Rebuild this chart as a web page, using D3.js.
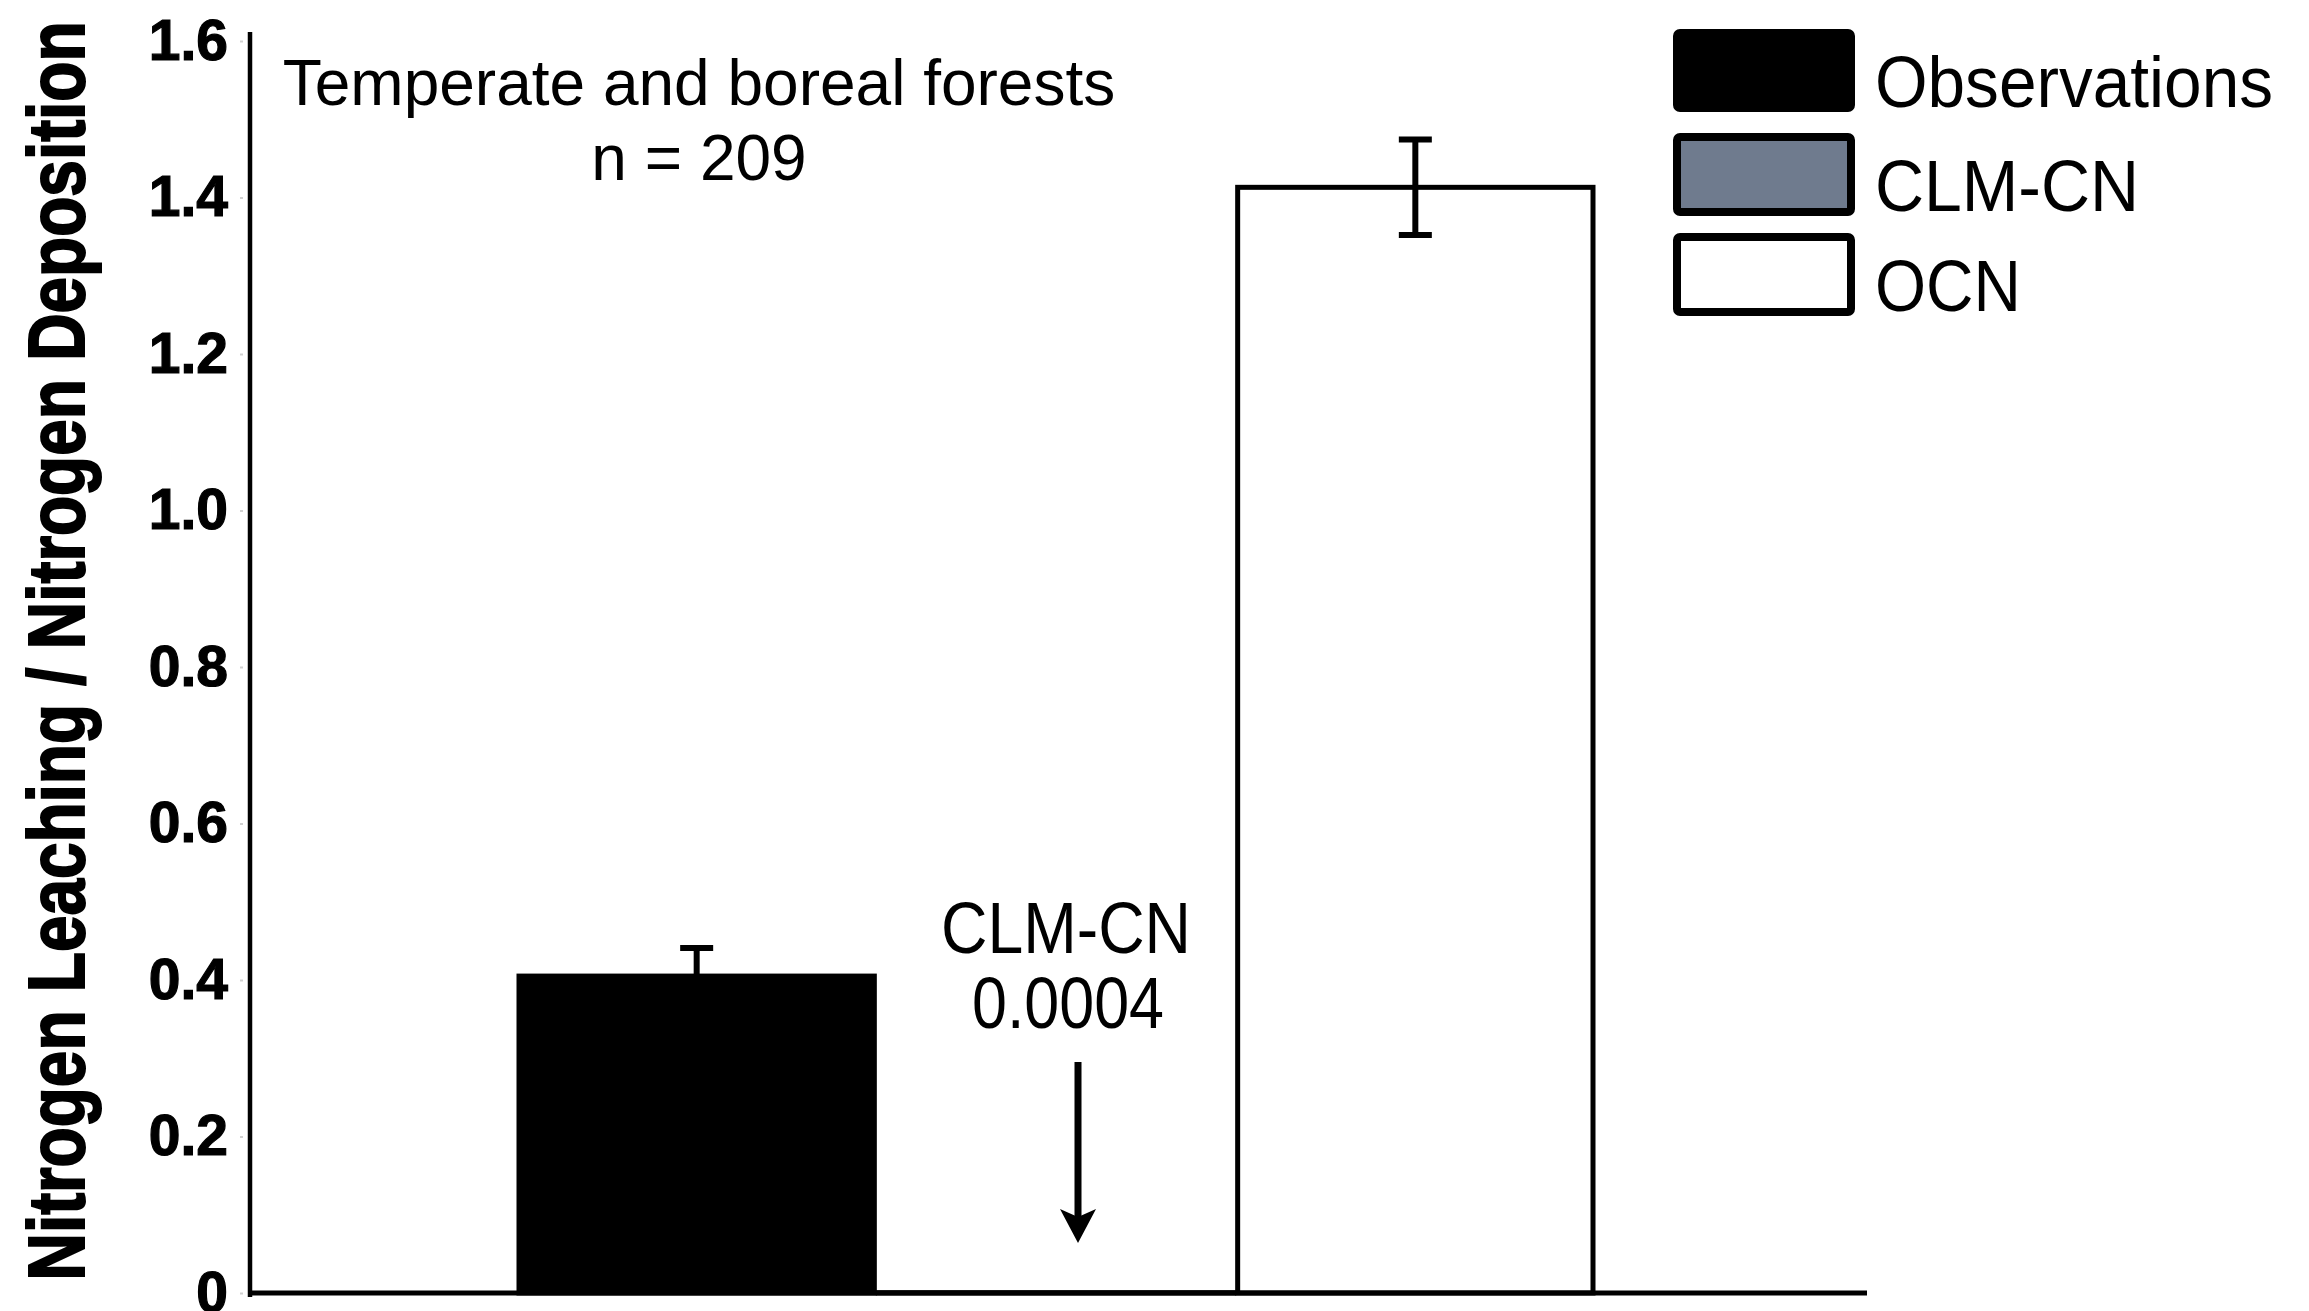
<!DOCTYPE html>
<html>
<head>
<meta charset="utf-8">
<script src="https://cdn.jsdelivr.net/npm/d3@7"></script>
<style>
  html, body { margin: 0; padding: 0; background: #fff; }
  svg { display: block; }
</style>
</head>
<body>
<svg id="chart" width="2309" height="1311"></svg>
<script>
// Ratio of nitrogen leaching to nitrogen deposition, temperate and boreal forests
const categories = ["Observations", "CLM-CN", "OCN"];
const values = [0.405, 0.0004, 1.413];
const errors = [0.036, 0, 0.061];
const fills = ["#000000", "#6f7b8e", "#ffffff"];
const yTicks = [0, 0.2, 0.4, 0.6, 0.8, 1.0, 1.2, 1.4, 1.6];
const titleLines = ["Temperate and boreal forests", "n = 209"];
const yTitle = "Nitrogen Leaching / Nitrogen Deposition";

const svg = d3.select("#chart");
const sans = "'Liberation Sans', Arial, Helvetica, sans-serif";

const y = d3.scaleLinear().domain([0, 1.6]).range([1293, 41]);
const x = d3.scaleBand().domain(categories).range([517, 1595]).paddingInner(0).paddingOuter(0);

const axisLeftX = 250;
const axisRightX = 1867;

// y axis: labels plus faint tick marks set off from the axis line
const yAxis = d3.axisLeft(y)
  .tickValues(yTicks)
  .tickSize(0)
  .tickPadding(22)
  .tickFormat(d => d === 0 ? "0" : d3.format(".1f")(d));

const gy = svg.append("g").attr("transform", `translate(${axisLeftX},0)`).call(yAxis);
gy.select(".domain").remove();
gy.selectAll(".tick text")
  .attr("font-family", sans)
  .attr("font-weight", "bold")
  .attr("font-size", 57)
  .attr("fill", "#000")
  .attr("stroke", "#000")
  .attr("stroke-width", 1.2);
gy.selectAll(".tick").append("line")
  .attr("x1", -10).attr("x2", -7)
  .attr("stroke", "#d0d0d0").attr("stroke-width", 2);

// axis lines
svg.append("line")
  .attr("x1", axisLeftX).attr("x2", axisLeftX)
  .attr("y1", y(1.6) - 9).attr("y2", y(0) + 4)
  .attr("stroke", "#000").attr("stroke-width", 4.5);

// bars
const bars = svg.append("g");
bars.selectAll("rect")
  .data(categories)
  .join("rect")
  .attr("x", d => x(d) + 2)
  .attr("width", x.bandwidth() - 4)
  .attr("y", (d, i) => y(values[i]))
  .attr("height", (d, i) => y(0) - y(values[i]))
  .attr("fill", (d, i) => fills[i])
  .attr("stroke", "#000")
  .attr("stroke-width", 5);

svg.append("line")
  .attr("x1", axisLeftX).attr("x2", axisRightX)
  .attr("y1", y(0)).attr("y2", y(0))
  .attr("stroke", "#000").attr("stroke-width", 5);

// error bars
const eb = svg.append("g").attr("stroke", "#000").attr("stroke-width", 6);
categories.forEach((c, i) => {
  if (!errors[i]) return;
  const cx = x(c) + x.bandwidth() / 2;
  const hi = y(values[i] + errors[i]);
  const lo = y(values[i] - errors[i]);
  eb.append("line").attr("x1", cx).attr("x2", cx).attr("y1", hi).attr("y2", lo);
  eb.append("line").attr("x1", cx - 16.5).attr("x2", cx + 16.5).attr("y1", hi).attr("y2", hi);
  eb.append("line").attr("x1", cx - 16.5).attr("x2", cx + 16.5).attr("y1", lo).attr("y2", lo);
});

// annotation for the near-zero CLM-CN bar
const clmX = x("CLM-CN") + x.bandwidth() / 2;
const ann = svg.append("g").attr("font-family", sans).attr("font-size", 72).attr("fill", "#000").attr("text-anchor", "middle");
ann.append("text").attr("x", clmX + 10).attr("y", 953)
  .attr("textLength", 250).attr("lengthAdjust", "spacingAndGlyphs").text(categories[1]);
ann.append("text").attr("x", clmX + 12).attr("y", 1028)
  .attr("textLength", 192).attr("lengthAdjust", "spacingAndGlyphs").text(String(values[1]));

const arrowX = clmX + 22;
svg.append("line")
  .attr("x1", arrowX).attr("x2", arrowX)
  .attr("y1", 1062).attr("y2", 1222)
  .attr("stroke", "#000").attr("stroke-width", 7);
svg.append("path")
  .attr("d", `M${arrowX},1243 L${arrowX - 18},1209 L${arrowX},1217 L${arrowX + 18},1209 Z`)
  .attr("fill", "#000");

// panel title
const tt = svg.append("g").attr("font-family", sans).attr("font-size", 64).attr("fill", "#000").attr("text-anchor", "middle");
tt.append("text").attr("x", 699).attr("y", 105).text(titleLines[0]);
tt.append("text").attr("x", 699).attr("y", 180).text(titleLines[1]);

// y axis title
svg.append("text")
  .attr("transform", "translate(84,651) rotate(-90)")
  .attr("text-anchor", "middle")
  .attr("font-family", sans)
  .attr("font-weight", "bold")
  .attr("font-size", 80)
  .attr("textLength", 1259)
  .attr("lengthAdjust", "spacingAndGlyphs")
  .attr("fill", "#000")
  .attr("stroke", "#000")
  .attr("stroke-width", 2)
  .text(yTitle);

// legend
const legendTop = [29, 133, 233];
const legendLen = [398, 264, 146];
const lg = svg.append("g");
categories.forEach((c, i) => {
  lg.append("rect")
    .attr("x", 1677).attr("y", legendTop[i] + 4)
    .attr("width", 174).attr("height", 75)
    .attr("rx", 3)
    .attr("fill", fills[i])
    .attr("stroke", "#000")
    .attr("stroke-width", 8);
  lg.append("text")
    .attr("x", 1875).attr("y", legendTop[i] + 78)
    .attr("font-family", sans)
    .attr("font-size", 72)
    .attr("textLength", legendLen[i])
    .attr("lengthAdjust", "spacingAndGlyphs")
    .attr("fill", "#000")
    .text(c);
});
</script>
</body>
</html>
